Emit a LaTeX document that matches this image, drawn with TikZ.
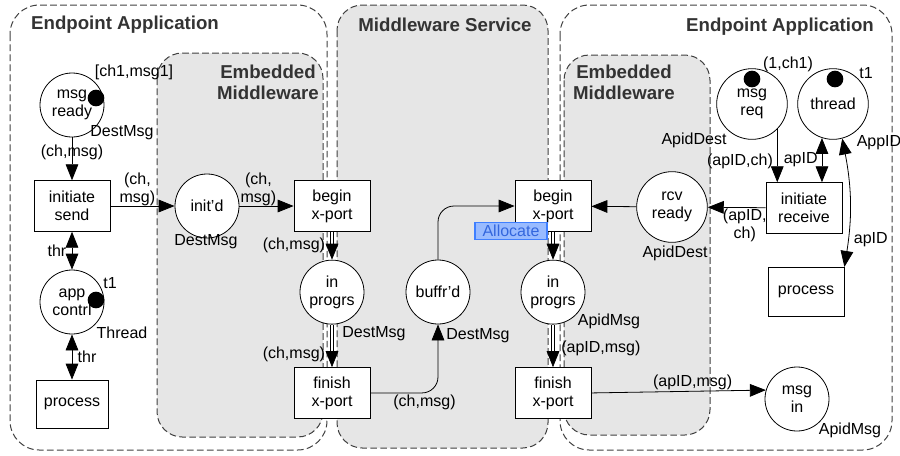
\documentclass[tikz,border=0pt]{standalone}
\usepackage{fontspec}
\setmainfont{Liberation Sans}
\usetikzlibrary{positioning,arrows.meta,calc}
\definecolor{zoneGray}{HTML}{E6E6E6}
\definecolor{zoneLine}{HTML}{404040}
\definecolor{titleGray}{HTML}{333333}
\definecolor{allocFill}{HTML}{99BBFF}
\definecolor{allocLine}{HTML}{3F7FFF}
\definecolor{allocText}{HTML}{3366DD}

\begin{document}
\begin{tikzpicture}[x=0.75pt, y=-0.75pt,
    font=\fontsize{12}{13.5}\selectfont,
    zoneBox/.style={draw=zoneLine, dash pattern=on 5pt off 2.5pt, line width=0.75pt, rounded corners=22pt},
    grayZone/.style={zoneBox, fill=zoneGray, rounded corners=19pt},
    zoneTitle/.style={font=\fontsize{14}{15.75}\selectfont\bfseries, text=titleGray, align=center},
    placeNode/.style={circle, draw, fill=white, line width=0.6pt, minimum size=48pt, inner sep=0pt, align=center},
    bigPlace/.style={placeNode, minimum size=53pt},
    transNode/.style={rectangle, draw, fill=white, line width=0.6pt, minimum width=57pt, minimum height=38pt, inner sep=1pt, align=center},
    tokenDot/.style={circle, fill=black, minimum size=12.5pt, inner sep=0pt},
    typeLbl/.style={inner sep=0pt},
    arcArrow/.style={-{Triangle[length=12pt,width=9.5pt]}, line width=0.6pt},
    arcBoth/.style={{Triangle[length=12pt,width=9.5pt]}-{Triangle[length=12pt,width=9.5pt]}, line width=0.6pt},
    dblArrow/.style={arcArrow, double, double distance=2.2pt, line width=0.5pt},
    arcLbl/.style={inner sep=1pt, align=center},
    allocLbl/.style={draw=allocLine, fill=allocFill, text=allocText, line width=0.8pt, minimum width=54pt, minimum height=12.5pt, inner sep=1pt}
]
    \useasboundingbox (0,0) rectangle (900,455);

    % zones
    \draw[zoneBox] (10,5) rectangle (327,450);
    \draw[zoneBox] (560,5) rectangle (892,450);
    \draw[grayZone] (157,53) rectangle (323,437);
    \draw[grayZone] (337,5) rectangle (548,448);
    \draw[grayZone] (564,55) rectangle (710,435);

    \node[zoneTitle] (tEndL) at (125,25) {Endpoint Application};
    \node[zoneTitle] (tEmbL) at (268,82) {Embedded\\Middleware};
    \node[zoneTitle] (tServ) at (445,25) {Middleware Service};
    \node[zoneTitle] (tEndR) at (780,27) {Endpoint Application};
    \node[zoneTitle] (tEmbR) at (624,82) {Embedded\\Middleware};

    % sender application
    \node[placeNode] (msgready) at (72,105) {msg\\ready};
    \node[transNode] (initsend) at (72,206) {initiate\\send};
    \node[placeNode] (appcontrl) at (72,302) {app\\contrl};
    \node[transNode, minimum height=36pt, minimum width=54pt] (processL) at (72,404) {process};
    \node[placeNode] (initd) at (207,206) {init'd};

    % middleware columns
    \node[transNode] (beginL) at (332,206) {begin\\x-port};
    \node[placeNode, below=21pt of beginL] (progL) {in\\progrs};
    \node[transNode, below=32pt of progL] (finishL) {finish\\x-port};
    \node[placeNode] (buffrd) at (438,292) {buffr'd};
    \node[transNode] (beginR) at (553,206) {begin\\x-port};
    \node[placeNode, below=21pt of beginR] (progR) {in\\progrs};
    \node[transNode, below=32pt of progR] (finishR) {finish\\x-port};

    % receiver application
    \node[bigPlace] (rcvready) at (672,207) {rcv\\ready};
    \node[transNode] (initrcv) at (804,208) {initiate\\receive};
    \node[bigPlace] (msgreq) at (752,104) {msg\\req};
    \node[bigPlace] (thread) at (833,104) {thread};
    \node[transNode, minimum height=37pt] (processR) at (806,292) {process};
    \node[placeNode] (msgin) at (797,399) {msg\\in};

    % tokens
    \node[tokenDot] (tokMsg) at ([shift={(24,-7)}]msgready) {};
    \node[tokenDot] (tokApp) at ([shift={(24,-2)}]appcontrl) {};
    \node[tokenDot] (tokReq) at ([shift={(0,-25)}]msgreq) {};
    \node[tokenDot] (tokThr) at ([shift={(2,-25)}]thread) {};

    % colour sets and markings
    \node[typeLbl] (lblMsgInit) at (134,72) {[ch1,msg1]};
    \node[typeLbl] (lblDestA) at (122,133) {DestMsg};
    \node[typeLbl] (lblT1A) at (110,283) {t1};
    \node[typeLbl] (lblThread) at (122,333) {Thread};
    \node[typeLbl] (lblDestB) at (206,242) {DestMsg};
    \node[typeLbl] (lblDestC) at (374,334) {DestMsg};
    \node[typeLbl] (lblDestD) at (478,336) {DestMsg};
    \node[typeLbl] (lblApidA) at (694,140) {ApidDest};
    \node[typeLbl] (lblReqInit) at (788,64) {(1,ch1)};
    \node[typeLbl] (lblT1B) at (866,73) {t1};
    \node[typeLbl] (lblAppID) at (879,143) {AppID};
    \node[typeLbl] (lblApidB) at (675,253) {ApidDest};
    \node[typeLbl] (lblApidMsgA) at (609,321) {ApidMsg};
    \node[typeLbl] (lblApidMsgB) at (850,430) {ApidMsg};

    % sender arcs
    \draw[arcArrow] (msgready) -- (initsend) node[arcLbl, pos=0.34] {(ch,msg)};
    \draw[arcArrow] (initsend) -- (initd) node[arcLbl, above=-1pt, pos=0.42] {(ch,\\msg)};
    \draw[arcArrow] (initd) -- (beginL) node[arcLbl, above=-1pt, pos=0.35] {(ch,\\msg)};
    \draw[arcBoth] (initsend) -- (appcontrl) node[arcLbl, left=3pt, midway] {thr};
    \draw[arcBoth] (appcontrl) -- (processL) node[arcLbl, right=3pt, midway] {thr};

    % transport
    \draw[dblArrow] (beginL) -- (progL) node[arcLbl, left=4pt, midway] {(ch,msg)};
    \draw[dblArrow] (progL) -- (finishL) node[arcLbl, left=4pt, pos=0.7] {(ch,msg)};
    \draw[arcArrow, rounded corners=12pt] (finishL.east) -| (buffrd.south) node[arcLbl, below, pos=0.4] {(ch,msg)};
    \draw[arcArrow, rounded corners=12pt] (buffrd.north) |- (beginR.west);
    \draw[dblArrow] (beginR) -- (progR);
    \draw[dblArrow] (progR) -- (finishR) node[arcLbl, right=5pt, pos=0.55] {(apID,msg)};
    \node[allocLbl] (allocate) at (511,231) {Allocate};

    % receiver arcs
    \draw[arcArrow] (rcvready) -- (beginR);
    \draw[arcArrow] (initrcv) -- (rcvready) node[arcLbl, below, pos=0.36] {(apID,\\ch)};
    \draw[arcArrow] (msgreq.-45) -- (msgreq.-45 |- initrcv.north) node[arcLbl, left=2pt, pos=0.6] {(apID,ch)};
    \draw[arcBoth] (thread.-108) -- (thread.-108 |- initrcv.north) node[arcLbl, left=2pt, midway] {apID};
    \draw[arcBoth] (thread.-75) to[bend left=10] node[arcLbl, right=3pt, pos=0.8] {apID} (processR.north east);
    \draw[arcArrow] (finishR.east) -- (msgin.164) node[arcLbl, above, pos=0.58] {(apID,msg)};
\end{tikzpicture}
\end{document}
